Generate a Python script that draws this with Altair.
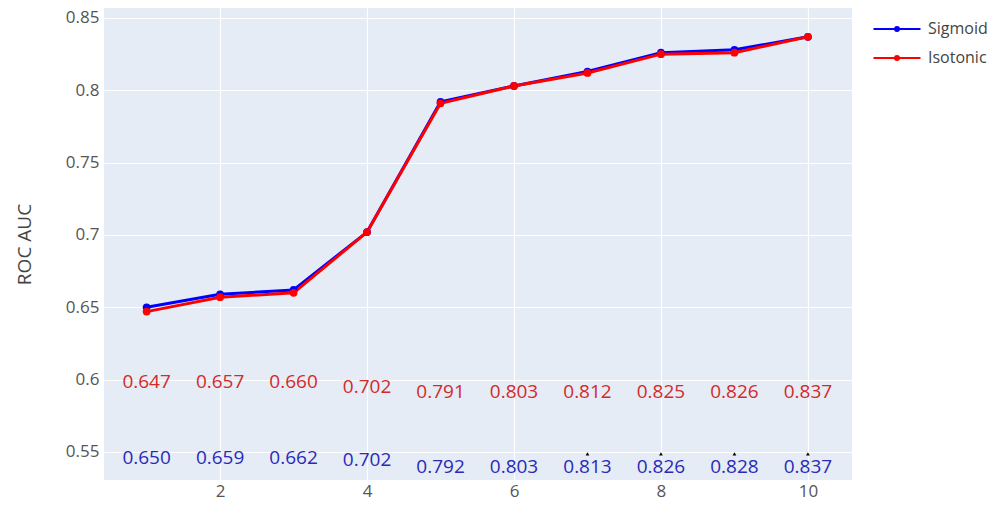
import altair as alt
import pandas as pd

# ---- data ----
x_vals = [1, 2, 3, 4, 5, 6, 7, 8, 9, 10]
sigmoid = [0.650, 0.659, 0.662, 0.702, 0.792, 0.803, 0.813, 0.826, 0.828, 0.837]
isotonic = [0.647, 0.657, 0.660, 0.702, 0.791, 0.803, 0.812, 0.825, 0.826, 0.837]
# vertical positions (in ROC AUC units) where the value labels sit
iso_label_y = [0.5984, 0.5984, 0.5984, 0.5949, 0.5915, 0.5915, 0.5915, 0.5915, 0.5915, 0.5915]
sig_label_y = [0.5459, 0.5459, 0.5459, 0.5445, 0.5396, 0.5396, 0.5396, 0.5396, 0.5396, 0.5396]
arrow_x = [7, 8, 9, 10]
arrow_y = [0.5486, 0.5486, 0.5486, 0.5486]
series = ["Sigmoid", "Isotonic"]
colors = ["blue", "red"]
x_ticks = [2, 4, 6, 8, 10]
y_ticks = [0.55, 0.6, 0.65, 0.7, 0.75, 0.8, 0.85]

lines_df = pd.DataFrame({
    "x": x_vals * 2,
    "auc": sigmoid + isotonic,
    "series": ["Sigmoid"] * len(x_vals) + ["Isotonic"] * len(x_vals),
    "order": [0] * len(x_vals) + [1] * len(x_vals),
})
iso_lab = pd.DataFrame({"x": x_vals, "y": iso_label_y, "v": isotonic})
sig_lab = pd.DataFrame({"x": x_vals, "y": sig_label_y, "v": sigmoid})
arrows = pd.DataFrame({"x": arrow_x, "y": arrow_y})

FONT = "Open Sans"
xscale = alt.Scale(domain=[0.42, 10.6], nice=False, zero=False)
yscale = alt.Scale(domain=[0.5306, 0.8569], nice=False, zero=False)

x_enc = alt.X("x:Q", scale=xscale,
              axis=alt.Axis(values=x_ticks, title=None, grid=True, domain=False,
                            ticks=False, labelPadding=3, format="d"))
y_enc = alt.Y("auc:Q", scale=yscale,
              axis=alt.Axis(values=y_ticks, title="ROC AUC", grid=True, domain=False,
                            ticks=False, labelPadding=5, titlePadding=31,
                            labelExpr="format(datum.value, '.2~f')"))

color_enc = alt.Color(
    "series:N",
    scale=alt.Scale(domain=series, range=colors),
    sort=series,
    legend=alt.Legend(
        title=None, orient="none", legendX=782, legendY=10,
        symbolType="M-2.35,0H2.35M-0.2,0A0.2,0.2,0,1,1,0.2,0A0.2,0.2,0,1,1,-0.2,0",
        symbolSize=400, symbolStrokeWidth=2, labelOffset=20,
        labelFontSize=16, labelFont=FONT, labelColor="#444",
        rowPadding=10, padding=0,
    ),
)

base = alt.Chart(lines_df)
line = base.mark_line(strokeWidth=3).encode(
    x=x_enc, y=y_enc, color=color_enc, order="order:Q", detail="series:N")
pts = base.mark_point(filled=True, size=60, opacity=1).encode(
    x="x:Q", y="auc:Q", color=color_enc)

iso_text = alt.Chart(iso_lab).mark_text(
    font=FONT, fontSize=19, color="#d42a2a").encode(
    x="x:Q", y="y:Q", text=alt.Text("v:Q", format=".3f"))
sig_text = alt.Chart(sig_lab).mark_text(
    font=FONT, fontSize=19, color="#2a2ab8").encode(
    x="x:Q", y="y:Q", text=alt.Text("v:Q", format=".3f"))
arr = alt.Chart(arrows).mark_point(
    shape="triangle-up", filled=True, size=14, color="black", opacity=1).encode(
    x="x:Q", y="y:Q")

chart = alt.layer(line, pts, iso_text, sig_text, arr).properties(
    width=748, height=472,
    autosize=alt.AutoSizeParams(type="none"),
    padding={"left": 96, "top": 0, "right": 146, "bottom": 20},
    background="white",
).configure_view(
    fill="#E5ECF6", stroke=None
).configure_axis(
    gridColor="white", gridWidth=1.2,
    labelFont=FONT, labelFontSize=17, labelColor="#555",
    titleFont=FONT, titleFontSize=19, titleColor="#444", titleFontWeight="normal",
)

chart.save("out.html", embed_options={"renderer": "svg", "actions": False})
